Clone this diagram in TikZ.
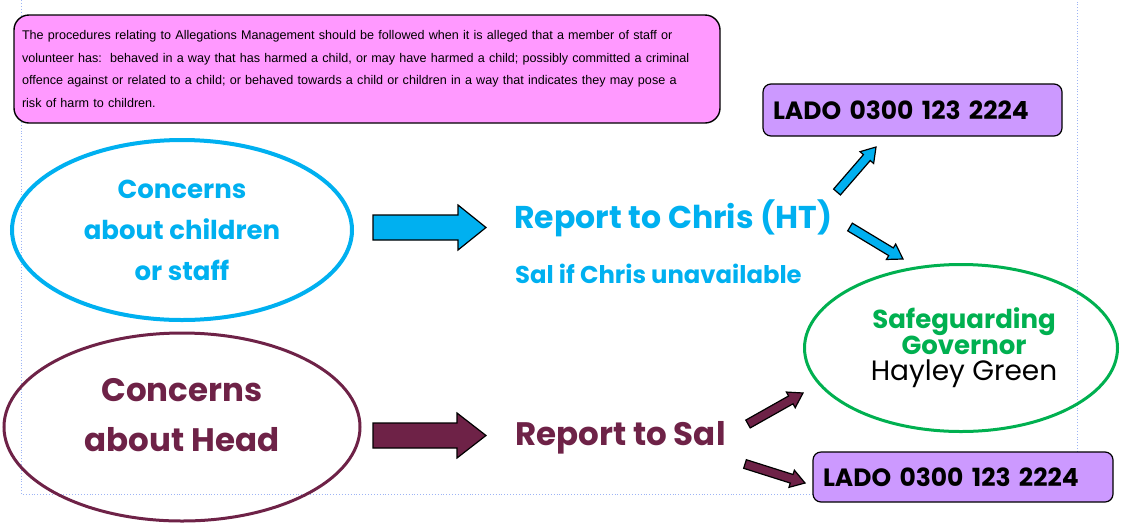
\documentclass[tikz,border=0pt]{standalone}
\usepackage{fontspec}
\newfontfamily\gothic{Poppins}
\newfontfamily\arialish{Liberation Sans}
\usetikzlibrary{shapes.geometric,calc,positioning}

\definecolor{kidblue}{HTML}{00B0F0}
\definecolor{headred}{HTML}{6E2247}
\definecolor{govgreen}{HTML}{00B050}
\definecolor{rulepink}{HTML}{FF99FF}
\definecolor{ladolilac}{HTML}{CC99FF}
\definecolor{guideblue}{HTML}{9DB4F5}

\newcommand{\blockarrow}[6][]{%
  \path ($(#3)!#5!(#2)$) coordinate (ah);
  \filldraw[#1] ($(#2)!#4!90:(#3)$) -- ($(ah)!#4!90:(#3)$) -- ($(ah)!#6!90:(#3)$) -- (#3)
    -- ($(ah)!#6!-90:(#3)$) -- ($(ah)!#4!-90:(#3)$) -- ($(#2)!#4!-90:(#3)$) -- cycle;}

\begin{document}
\begin{tikzpicture}[x=1pt, y=-1pt,
    oval/.style={ellipse, draw, inner sep=0pt},
    ladobox/.style={draw=black, line width=1.2pt, fill=ladolilac, rounded corners=8pt, inner xsep=10pt, inner ysep=0pt, align=left, font=\gothic\bfseries\fontsize{25}{27}\selectfont},
    reporttxt/.style={anchor=base west, inner sep=0pt, font=\gothic\bfseries\fontsize{31.5}{33}\selectfont},
    bluearr/.style={fill=kidblue, draw=black, line width=1.2pt},
    redarr/.style={fill=headred, draw=black, line width=1.2pt}]
    \useasboundingbox (0,0) rectangle (1121,523);
    \draw[guideblue, dotted, line width=0.9pt] (21,0) -- (21,494) -- (1077,494) -- (1077,0);

    \node[draw=black, line width=1.4pt, fill=rulepink, rounded corners=15pt, minimum width=706pt, minimum height=108pt, text width=690pt, inner xsep=8pt, align=left, font=\arialish\fontsize{12.6}{22.7}\selectfont] (rule) at (367,69)
        {The procedures relating to Allegations Management should be followed when it is alleged that a member of staff or\\
         volunteer has:\ \ behaved in a way that has harmed a child, or may have harmed a child; possibly committed a criminal\\
         offence against or related to a child; or behaved towards a child or children in a way that indicates they may pose a\\
         risk of harm to children.};

    \node[oval, draw=kidblue, line width=4pt, minimum width=340pt, minimum height=180pt, align=center, text=kidblue, font=\gothic\bfseries\fontsize{26}{41}\selectfont] (kids) at (182,230) {Concerns\\about children\\or staff};
    \node[oval, draw=headred, line width=3pt, minimum width=356pt, minimum height=188pt] (head) at (182,427) {};
    \node[align=center, text=headred, font=\gothic\bfseries\fontsize{32.5}{50}\selectfont] (headtxt) at (182,415) {Concerns\\about Head};

    \node[reporttxt, text=kidblue] (chris) at (514,228) {Report to Chris (HT)};
    \node[reporttxt, text=kidblue, font=\gothic\bfseries\fontsize{24.3}{26}\selectfont] (cover) at (515,283) {Sal if Chris unavailable};
    \node[reporttxt, text=headred, font=\gothic\bfseries\fontsize{32.5}{34}\selectfont] (sal) at (515,445) {Report to Sal};

    \node[oval, draw=govgreen, line width=3pt, minimum width=313pt, minimum height=167pt] (gov) at (961,348) {};
    \node[anchor=base, inner sep=0pt, text=govgreen, font=\gothic\bfseries\fontsize{26}{28}\selectfont] (govrole) at (964,328) {Safeguarding};
    \node[anchor=base, inner sep=0pt, text=govgreen, font=\gothic\bfseries\fontsize{26}{28}\selectfont] (govrole2) at (964,354) {Governor};
    \node[anchor=base, inner sep=0pt, font=\gothic\fontsize{28}{30}\selectfont] (govname) at (964,380) {Hayley Green};

    \node[ladobox, minimum width=299pt, minimum height=52pt, text width=279pt] (ladoA) at (912.5,110) {LADO 0300 123 2224};
    \node[ladobox, minimum width=300pt, minimum height=50pt, text width=280pt] (ladoB) at (963,477) {LADO 0300 123 2224};

    \coordinate (kidsout) at (373,227.5);
    \coordinate (chrisin) at (486,227.5);
    \coordinate (headout) at (373,435.5);
    \coordinate (salin) at (486,435.5);
    \coordinate (chrisup) at (837,192);
    \coordinate (ladoAin) at (876,147);
    \coordinate (chrisdn) at (850,227);
    \coordinate (govin) at (903,259);
    \coordinate (salup) at (748,424);
    \coordinate (govin2) at (803,393);
    \coordinate (saldn) at (745,464);
    \coordinate (ladoBin) at (805,483);

    \blockarrow[bluearr]{kidsout}{chrisin}{12.5pt}{28pt}{22.5pt}
    \blockarrow[redarr]{headout}{salin}{12.5pt}{29pt}{22.5pt}
    \blockarrow[bluearr]{chrisup}{ladoAin}{4.5pt}{14pt}{9pt}
    \blockarrow[bluearr]{chrisdn}{govin}{4.5pt}{14pt}{9pt}
    \blockarrow[redarr]{salup}{govin2}{4.5pt}{14pt}{9pt}
    \blockarrow[redarr]{saldn}{ladoBin}{4.5pt}{14pt}{9pt}
\end{tikzpicture}
\end{document}
